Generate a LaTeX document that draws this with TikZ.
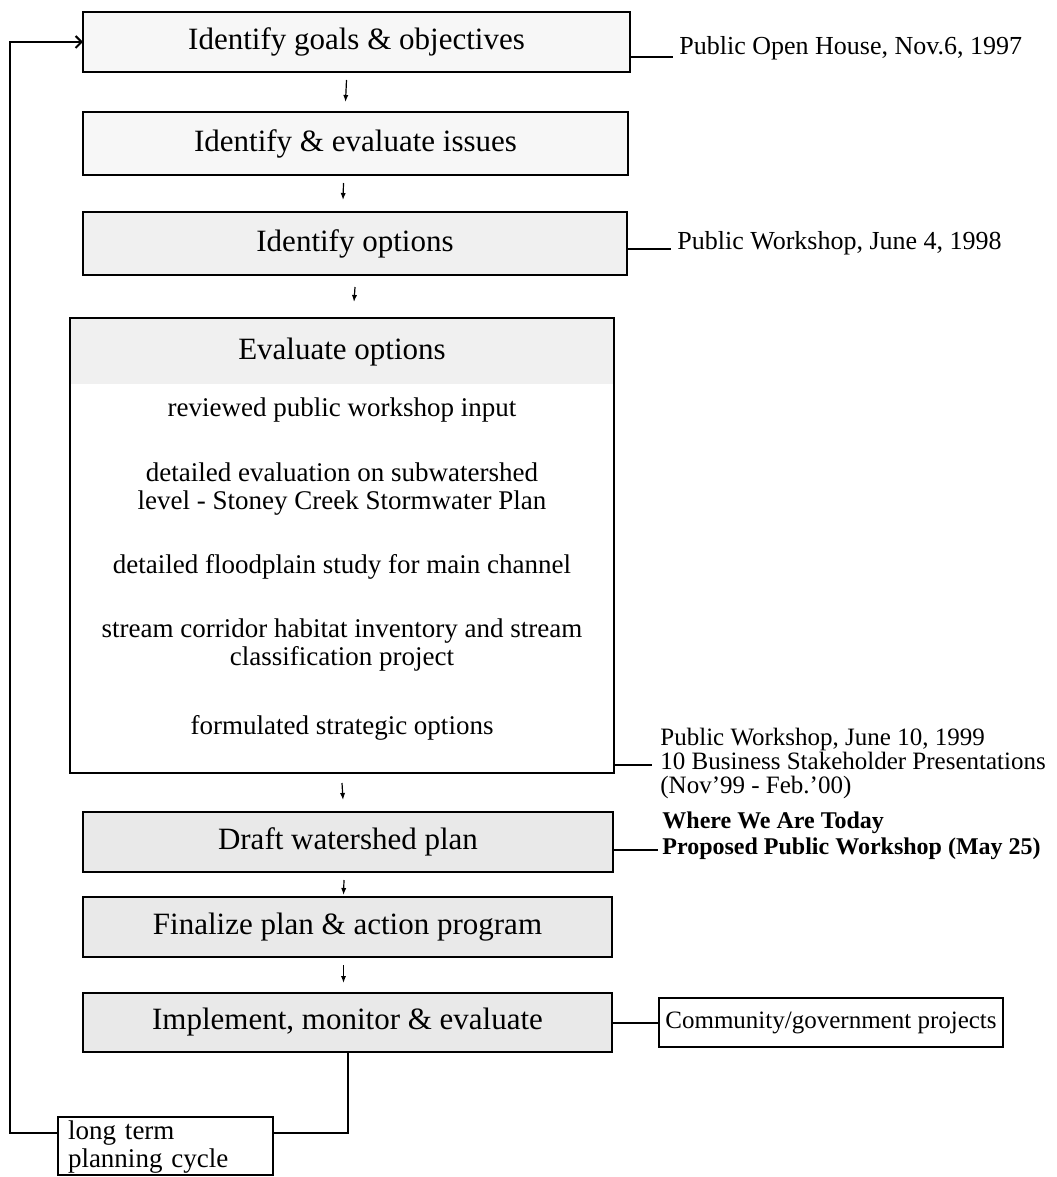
\documentclass[tikz,border=0pt]{standalone}
\usepackage{fontspec}
\setmainfont{Liberation Serif}
\usetikzlibrary{arrows.meta,calc}
\begin{document}
\begin{tikzpicture}[x=0.5pt,y=-0.5pt,
  box/.style={draw,line width=1.2pt,inner sep=0pt,outer sep=0pt},
  ttl/.style={font=\fontsize{15.5}{18}\selectfont},
  body/.style={font=\fontsize{13.5}{14}\selectfont,align=center,inner sep=0pt},
  lab/.style={font=\fontsize{13}{12}\selectfont,align=left,inner sep=0pt},
  blab/.style={font=\bfseries\fontsize{12}{13}\selectfont,align=left,inner sep=0pt},
  conn/.style={line width=1pt},
  flow/.style={line width=0.6pt,-{Latex[length=3.5pt,width=2.6pt]}},
  loop/.style={line width=1pt,-{Straight Barb[length=3pt,width=6pt]}}]
\useasboundingbox (0,0) rectangle (1056,1177);
\fill[white] (0,0) rectangle (1056,1177);

% main boxes
\node[box,ttl,fill=gray!6,minimum width=273.5pt,minimum height=30pt] (b1) at (356.5,42) {Identify goals \& objectives};
\node[box,ttl,fill=gray!6,minimum width=272.5pt,minimum height=31.5pt] (b2) at (355.5,143.5) {Identify \& evaluate issues};
\node[box,ttl,fill=gray!12,minimum width=272pt,minimum height=31.5pt] (b3) at (355,243.5) {Identify options};

% evaluate options box
\fill[gray!12] (70,318) rectangle (614,384);
\node[box,minimum width=272pt,minimum height=227.5pt] (b4) at (342,545.5) {};
\node[ttl,inner sep=0pt] (b4t) at (342,352) {Evaluate options};
\node[body] (e1) at (342,410) {reviewed public workshop input};
\node[body] (e2) at (342,489) {detailed evaluation on subwatershed\\level - Stoney Creek Stormwater Plan};
\node[body] (e3) at (342,567) {detailed floodplain study for main channel};
\node[body] (e4) at (342,645) {stream corridor habitat inventory and stream\\classification project};
\node[body] (e5) at (342,728) {formulated strategic options};

\node[box,ttl,fill=gray!17,minimum width=265pt,minimum height=30pt] (b5) at (348,842) {Draft watershed plan};
\node[box,ttl,fill=gray!17,minimum width=264.5pt,minimum height=30pt] (b6) at (347.5,927) {Finalize plan \& action program};
\node[box,ttl,fill=gray!17,minimum width=264.5pt,minimum height=29.5pt] (b7) at (347.5,1022.5) {Implement, monitor \& evaluate};

% side boxes
\node[box,line width=1pt,font=\fontsize{12.5}{14}\selectfont,minimum width=172pt,minimum height=24.5pt] (cg) at (831,1022.5) {Community/government projects};
\node[box,line width=1pt,font=\fontsize{13.5}{14}\selectfont,align=left,text width=97.5pt,inner xsep=5pt,minimum height=29pt] (lt) at (165.5,1146) {\rule{0pt}{10.5pt}long term\\planning cycle};

% side labels
\node[lab,anchor=mid west] (L1) at (679,50) {Public Open House, Nov.6, 1997};
\node[lab,anchor=mid west] (L3) at (677,245) {Public Workshop, June 4, 1998};
\node[lab,font=\fontsize{12.5}{12}\selectfont,anchor=west] (L4) at (660,763) {Public Workshop, June 10, 1999\\10 Business Stakeholder Presentations\\(Nov'99 - Feb.'00)};
\node[blab,anchor=west] (L5) at (662,836) {Where We Are Today\\Proposed Public Workshop (May 25)};

% label connectors
\draw[conn] (b1.east |- 0,57) -- ([xshift=-3pt]L1.west |- 0,57);
\draw[conn] (b3.east |- 0,249) -- ([xshift=-3pt]L3.west |- 0,249);
\draw[conn] (b4.east |- 0,765) -- ([xshift=-4pt]L4.west |- 0,765);
\draw[conn] (b5.east |- 0,850) -- ([xshift=-2pt]L5.west |- 0,850);
\draw[conn] (b7.east) -- (cg.west);

% flow arrows
\draw[flow] ([xshift=-5pt,yshift=-4pt]b1.south) -- ([xshift=-5pt,yshift=5pt]b2.north);
\draw[flow] ([xshift=-6pt,yshift=-4pt]b2.south) -- ([xshift=-6pt,yshift=6pt]b3.north);
\draw[flow] ([xshift=0pt,yshift=-6pt]b3.south) -- ([xshift=6pt,yshift=8pt]b4.north);
\draw[flow] ([xshift=0pt,yshift=-5pt]b4.south) -- ([xshift=-2.5pt,yshift=6pt]b5.north);
\draw[flow] ([xshift=-2pt,yshift=-4pt]b5.south) -- ([xshift=-2pt,yshift=1pt]b6.north);
\draw[flow] ([xshift=-2pt,yshift=-4pt]b6.south) -- ([xshift=-2pt,yshift=5pt]b7.north);

% long-term cycle
\coordinate (lx) at (10,0);
\draw[conn] (b7.south) |- ([yshift=6.5pt]lt.east);
\draw[loop] ([yshift=6.5pt]lt.west) -| (lx |- b1.west) -- (b1.west);
\end{tikzpicture}
\end{document}
